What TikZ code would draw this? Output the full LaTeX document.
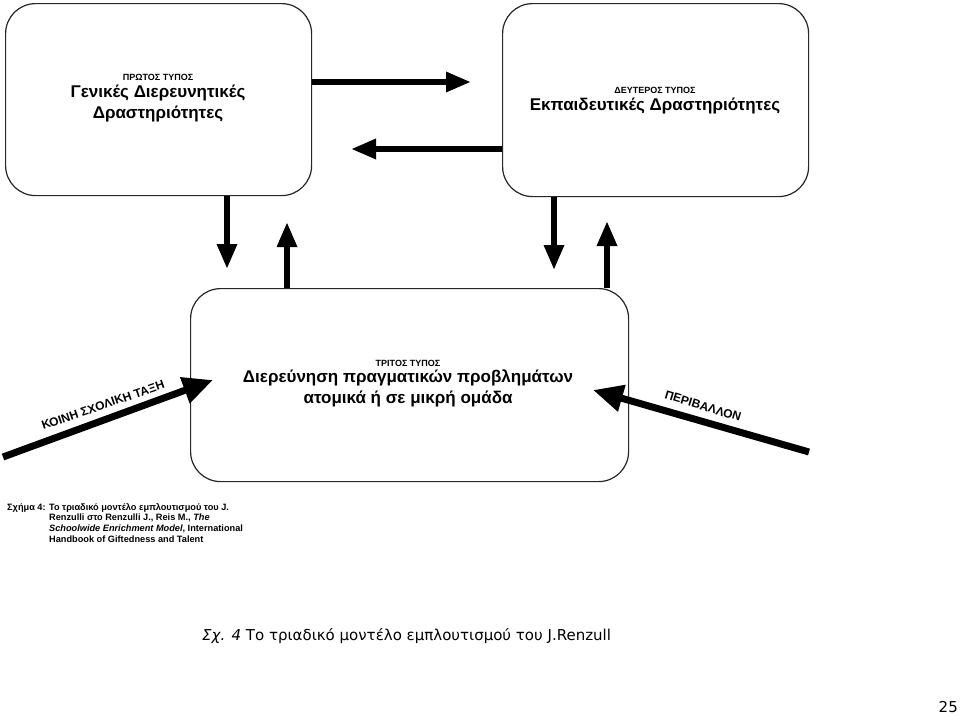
\documentclass[tikz,border=0pt]{standalone}
\usepackage{fontspec}
\setmainfont{Liberation Sans}
\newfontfamily\capfont{DejaVu Sans}
\usetikzlibrary{arrows.meta}
\begin{document}
\begin{tikzpicture}[x=1pt,y=-1pt,
  box/.style={draw=black!85, line width=1.2pt, rounded corners=30pt, anchor=north west, inner sep=0pt},
  arr/.style={line width=6pt, -{Triangle[length=25pt,width=19pt]}},
  darr/.style={line width=7pt, -{Triangle[length=30pt,width=26pt]}},
  small/.style={font=\bfseries\fontsize{9}{10}\selectfont},
  big/.style={font=\bfseries\fontsize{17}{21}\selectfont, align=center},
  lab/.style={font=\bfseries\fontsize{12}{14}\selectfont}]
\useasboundingbox (0,0) rectangle (960,715);
% boxes
\node[box, minimum width=306pt, minimum height=192pt] (b1) at (5,3) {};
\node[box, minimum width=306pt, minimum height=193pt] (b2) at (502,3) {};
\node[box, minimum width=438pt, minimum height=193pt] (b3) at (190,288) {};
% texts
\node[small] (t1a) at (158,77) {ΠΡΩΤΟΣ ΤΥΠΟΣ};
\node[big] (t1b) at (158,104) {Γενικές Διερευνητικές\\Δραστηριότητες};
\node[small] (t2a) at (655,90) {ΔΕΥΤΕΡΟΣ ΤΥΠΟΣ};
\node[big] (t2b) at (655,106) {Εκπαιδευτικές Δραστηριότητες};
\node[small] (t3a) at (408,363) {ΤΡΙΤΟΣ ΤΥΠΟΣ};
\node[big] (t3b) at (408,388) {Διερεύνηση πραγματικών προβλημάτων\\ατομικά ή σε μικρή ομάδα};
% tips
\coordinate (p1) at (471,82);
\coordinate (p2) at (351,149);
\coordinate (p3) at (227,269);
\coordinate (p4) at (287,222);
\coordinate (p5) at (554,270);
\coordinate (p6) at (607,221);
\draw[arr] (b1.east |- p1) -- (p1);
\draw[arr] (b2.west |- p2) -- (p2);
\draw[arr] (b1.south -| p3) -- (p3);
\draw[arr] (b3.north -| p4) -- (p4);
\draw[arr] (b2.south -| p5) -- (p5);
\draw[arr] (b3.north -| p6) -- (p6);
% diagonal arrows
\coordinate (q1) at (3,457);
\coordinate (q2) at (213,380);
\coordinate (q3) at (809,452);
\coordinate (q4) at (593,390);
\draw[darr] (q1) -- (q2);
\draw[darr] (q3) -- (q4);
\node[lab, rotate=19] (l1) at (103,405) {ΚΟΙΝΗ ΣΧΟΛΙΚΗ ΤΑΞΗ};
\node[lab, rotate=-17] (l2) at (703,406) {ΠΕΡΙΒΑΛΛΟΝ};
% small caption
\node[anchor=north west, inner sep=0pt, font=\bfseries\fontsize{9.2}{10.8}\selectfont, align=left] (sc) at (7,503)
 {Σχήμα 4: Το τριαδικό μοντέλο εμπλουτισμού του J.\\
  \hspace*{42pt}Renzulli στο Renzulli J., Reis M., \textit{The}\\
  \hspace*{42pt}\textit{Schoolwide Enrichment Model}, International\\
  \hspace*{42pt}Handbook of Giftedness and Talent};
% bottom caption
\node[anchor=base west, inner sep=0pt, font=\capfont\fontsize{15}{18}\selectfont] (cap) at (202,640)
 {\textit{Σχ. 4} Το τριαδικό μοντέλο εμπλουτισμού του J.Renzull};
\node[anchor=base east, inner sep=0pt, font=\capfont\fontsize{15}{18}\selectfont] (pg) at (958,712) {25};
\end{tikzpicture}
\end{document}
